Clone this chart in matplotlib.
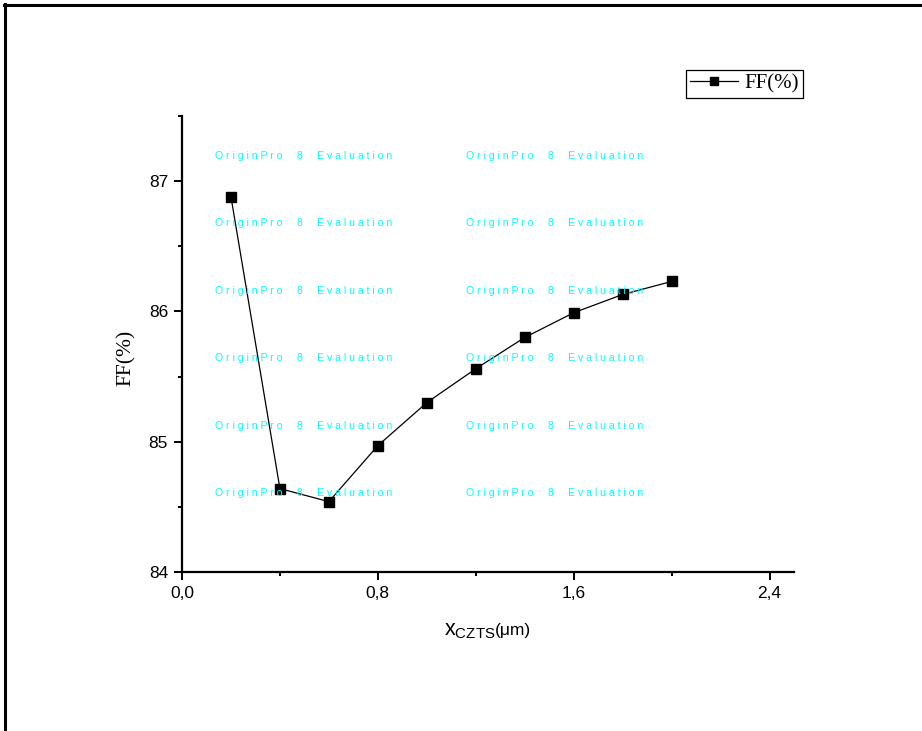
import numpy as np
import matplotlib.pyplot as plt
from matplotlib.lines import Line2D
from matplotlib.ticker import FixedLocator, FuncFormatter

# Datos
espesor = [0.2, 0.4, 0.6, 0.8, 1.0, 1.2, 1.4, 1.6, 1.8, 2.0]
ff = [86.88, 84.64, 84.54, 84.97, 85.30, 85.56, 85.80, 85.99, 86.13, 86.23]

W, H = 922, 731
fig = plt.figure(figsize=(W / 100, H / 100), dpi=100)
ax = fig.add_axes([182 / W, 1 - 572 / H, (794 - 182) / W, (572 - 116) / H])

sans = 'Liberation Sans'
serif = 'Liberation Serif'

# Marca de agua de la versión de evaluación
marca = ' '.join('OriginPro  8  Evaluation')
for fila in range(6):
    yy = 1 - (156 + fila * 67.4) / H
    for xx in (215, 466):
        fig.text(xx / W, yy, marca, color='#00ffff', fontsize=7.6,
                 family=sans, va='center', ha='left', zorder=0)

ax.plot(espesor, ff, color='black', lw=0.9, marker='s', ms=6.8,
        mfc='black', mec='black', label='FF(%)', zorder=3)

ax.set_xlim(0, 2.5)
ax.set_ylim(84, 87.5)
ax.xaxis.set_major_locator(FixedLocator([0.0, 0.8, 1.6, 2.4]))
ax.xaxis.set_minor_locator(FixedLocator([0.4, 1.2, 2.0]))
ax.yaxis.set_major_locator(FixedLocator([84, 85, 86, 87]))
ax.yaxis.set_minor_locator(FixedLocator([84.5, 85.5, 86.5, 87.5]))
ax.xaxis.set_major_formatter(FuncFormatter(lambda v, p: f'{v:.1f}'.replace('.', ',')))
ax.yaxis.set_major_formatter(FuncFormatter(lambda v, p: f'{v:.0f}'))

for s in ('top', 'right'):
    ax.spines[s].set_visible(False)
for s in ('left', 'bottom'):
    ax.spines[s].set_linewidth(1.6)
ax.patch.set_alpha(0)

ax.tick_params(which='major', direction='out', length=6, width=1.4,
               labelsize=12.5, pad=4)
ax.tick_params(which='minor', direction='out', length=3, width=1.4)
for lab in ax.get_xticklabels() + ax.get_yticklabels():
    lab.set_family(sans)

# Etiquetas de los ejes
fig.text(126 / W, 1 - 358 / H, 'FF(%)', rotation=90, family=serif,
         fontsize=15.5, ha='center', va='center')
fig.text(495 / W, 1 - 635 / H, r'$\mathregular{x_{CZTS}}$', family=sans,
         fontsize=15.5, ha='right', va='baseline')
fig.text(495 / W, 1 - 635 / H, '(μm)', family=sans,
         fontsize=12.5, ha='left', va='baseline')

leg = ax.legend(loc='upper left', bbox_to_anchor=(686 / W, 1 - 70 / H),
                bbox_transform=fig.transFigure, borderaxespad=0,
                fancybox=False, edgecolor='black', framealpha=1,
                prop={'family': serif, 'size': 15}, handlelength=2.3,
                handletextpad=0.3, borderpad=0.2, markerscale=0.9)
leg.get_frame().set_linewidth(0.9)

# Marco de la página
fig.add_artist(Line2D([4 / W, 1], [1 - 5 / H, 1 - 5 / H], color='black',
                      lw=2.2, transform=fig.transFigure))
fig.add_artist(Line2D([5 / W, 5 / W], [0, 1 - 4 / H], color='black',
                      lw=2.2, transform=fig.transFigure))

fig.savefig('out.png', dpi=100)
